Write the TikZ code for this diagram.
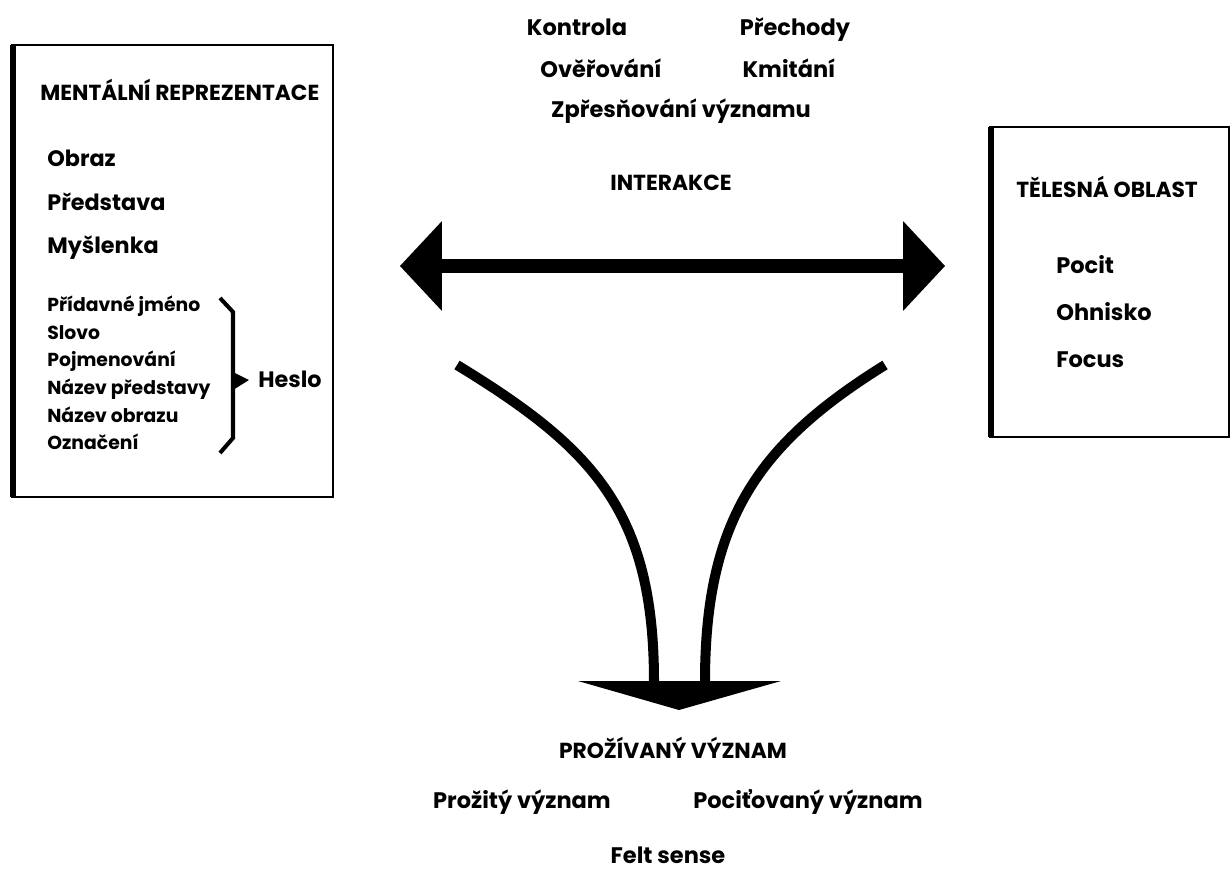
\documentclass[tikz,border=0pt]{standalone}
\usepackage{fontspec}
\setmainfont{Poppins}
\usetikzlibrary{arrows.meta,positioning}

\tikzset{
  head/.style={inner sep=0pt, font=\bfseries\fontsize{12.4}{14}\selectfont},
  word/.style={inner sep=0pt, font=\bfseries\fontsize{12.8}{15}\selectfont},
  item/.style={inner sep=0pt, font=\bfseries\fontsize{12.7}{15}\selectfont},
  sub/.style={inner sep=0pt, font=\bfseries\fontsize{10.7}{12}\selectfont},
  frame/.style={line width=1.4pt},
  frameside/.style={line width=3.4pt},
  stem/.style={line width=5.7pt},
}

\begin{document}
\begin{tikzpicture}[x=0.02cm,y=-0.02cm]
	\useasboundingbox (0,0) rectangle (1232,869);
	%
	% left box
	\draw[frame] (12,45) rectangle (333,497);
	\draw[frameside] (13,45) -- (13,497);
	\node[head,anchor=base west] (ment) at (40,100) {MENTÁLNÍ REPREZENTACE};
	\node[item,anchor=base west] (obraz) at (47,166) {Obraz};
	\node[item,anchor=base west] (predst) at (47,210) {Představa};
	\node[item,anchor=base west] (mysl) at (47,253) {Myšlenka};
	\foreach \w [count=\i] in {Přídavné jméno,Slovo,Pojmenování,Název představy,Název obrazu,Označení}
		\node[sub,anchor=base west] (w\i) at (47,{311.7+27.6*(\i-1)}) {\w};
	% brace
	\draw[line width=2.3pt] (220,298) -- (233,312) -- (233,438) -- (220,453);
	\fill (233,372) -- (249,380) -- (233,390) -- cycle;
	\node[item,anchor=base west] (heslo) at (258,387) {Heslo};
	%
	% right box
	\draw[frame] (990,127) rectangle (1229,437);
	\draw[frameside] (991,127) -- (991,437);
	\node[head,anchor=base west] (tel) at (1016,197) {TĚLESNÁ OBLAST};
	\node[word,anchor=base west] (pocit) at (1056,273) {Pocit};
	\node[word,anchor=base west] (ohn) at (1056,320) {Ohnisko};
	\node[word,anchor=base west] (focus) at (1056,367) {Focus};
	%
	% interaction
	\node[word,anchor=base] (kon) at (577,35) {Kontrola};
	\node[word,anchor=base] (pre) at (795,35) {Přechody};
	\node[word,anchor=base] (ove) at (601,77) {Ověřování};
	\node[word,anchor=base] (kmi) at (789,77) {Kmitání};
	\node[word,anchor=base] (zpr) at (681,117) {Zpřesňování významu};
	\node[head,anchor=base] (inter) at (671,190) {INTERAKCE};
	\coordinate (al) at (400,266);
	\coordinate (ar) at (945,266);
	\draw[line width=8pt,{Triangle[length=0.84cm,width=1.8cm,line width=0pt]}-{Triangle[length=0.84cm,width=1.8cm,line width=0pt]}] (al) -- (ar);
	%
	% felt sense
	\coordinate (l0) at (457,365);
	\coordinate (l1) at (654,682);
	\coordinate (r0) at (885,365);
	\coordinate (r1) at (705,682);
	\draw[stem] (l0) .. controls (593,448) and (654,511) .. (l1);
	\draw[stem] (r0) .. controls (758,444) and (705,520) .. (r1);
	\coordinate (tl) at (578,681);
	\coordinate (tr) at (781,681);
	\coordinate (tip) at (679,710);
	\fill (tl) -- (tr) -- (tip) -- cycle;
	\node[head,anchor=base] (proz) at (673,758) {PROŽÍVANÝ VÝZNAM};
	\node[word,anchor=base] (prozit) at (522,808) {Prožitý význam};
	\node[word,anchor=base] (pocvyz) at (808,808) {Pociťovaný význam};
	\node[word,anchor=base] (felt) at (668,863) {Felt sense};
\end{tikzpicture}
\end{document}
